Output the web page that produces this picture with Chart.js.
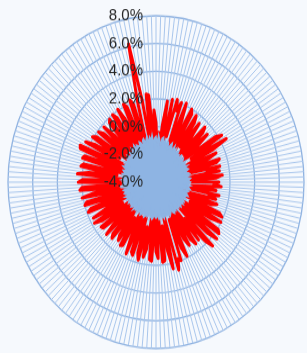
<!DOCTYPE html>
<html>
<head>
<meta charset="utf-8">
<script src="https://cdn.jsdelivr.net/npm/chart.js@4.4.1/dist/chart.umd.min.js"></script>
<style>
  html, body { margin: 0; padding: 0; background: #F6F9FD; overflow: hidden; }
  #wrap { width: 307px; height: 353px; overflow: hidden; }
  #radarChart { transform: scaleY(1.1242); transform-origin: 0 0; }
</style>
</head>
<body>
<div id="wrap"><canvas id="radarChart" width="307" height="314" style="width:307px;height:314px"></canvas></div>
<script>
// daily values in %, read clockwise from the top of the chart
const redReturns = [
  0.3, -1.8, -0.4, -2.2, 0.2, 1.9, -1.5, 2.1, -0.6, 2.2,
  1.4, 2.1, -2.0, 2.2, 0.9, -1.2, 2.0, 1.7, -2.4, 1.8,
  1.3, -0.8, 1.5, 0.4, -2.1, 1.6, 1.2, -1.0, 1.4, 0.3,
  -1.9, 1.8, 2.3, -0.7, 2.5, 1.2, -2.3, 1.3, 0.6, -1.4,
  1.4, 1.1, -2.0, 1.3, 0.2, 1.2, -1.6, 1.4, 0.9, -2.5,
  1.1, 0.7, 1.3, -1.1, 0.9, -2.0, 1.2, 0.4, 1.0, -1.7,
  1.2, 0.8, -2.2, 1.6, 1.9, -0.9, 2.0, 1.1, -1.8, 2.1,
  2.3, -1.3, 2.4, 1.5, -2.6, 2.5, 1.8, -0.5, 1.4, -2.0,
  1.5, 1.0, -1.6, 1.3, 0.7, -2.2, 1.9, 1.2, -1.1, 2.0,
  1.8, 2.6, -1.9, 2.4, 1.1, -0.8, 1.7, 1.8, -2.3, 1.5,
  1.0, -1.4, 1.7, 1.6, -2.0, 0.9, 1.5, -0.7, 1.8, 1.3,
  -2.1, 1.6, 1.4, -1.2, 1.7, 0.5, -2.4, 1.3, 1.4, -0.9,
  1.2, 0.8, -1.8, 1.4, 1.1, -2.2, 1.5, 0.6, -1.3, 1.4,
  1.5, -2.0, 1.2, 1.8, -0.9, 1.7, 0.4, -1.9, 1.9, 1.6,
  -1.5, 2.0, 1.8, -2.3, 2.1, 1.2, -1.0, 2.2, 2.0, -1.8,
  2.3, 1.9, -2.1, 2.4, 1.5, -0.8, 2.2, 2.0, -2.4, 2.2,
  2.1, -1.3, 2.6, 2.7, -1.9, 2.4, 1.6, -0.6, 2.1, 1.8,
  -2.2, 1.9, 1.5, -1.1, 1.8, 0.8, -2.0, 1.7, 1.9, -1.4,
  2.0, 1.6, -2.3, 2.1, 1.2, -0.9, 2.2, 1.9, -2.0, 2.3,
  1.9, -1.5, 2.2, 6.2, 2.1, -1.7, 2.4, 2.3, -0.8, 1.2
];

const blueValues = [
  -0.7, -1.2, -0.6, -0.9, -1.4, -0.8, -0.7, -1.1, -0.9, -1.3,
  -0.9, -1.0, -1.5, -1.1, -0.9, -1.2, -1.4, -1.0, -1.3, -1.1,
  -1.6, -1.2, -1.1, -1.4, -1.3, -1.7, -1.2, -1.3, -1.5, -1.2,
  -1.3, -1.8, -1.2, -1.4, -1.3, -1.6, -1.2, -1.5, -1.3, -1.2,
  -1.4, -1.7, -1.3, -1.2, -1.5, -1.3, -1.9, -1.2, -1.3, -1.4,
  -1.2, -1.3, -1.6, -1.2, -1.4, -1.3, -1.2, -1.8, -1.3, -1.4,
  -1.5, -1.3, -1.2, -1.6, -1.4, -1.3, -2.0, -1.4, -1.3, -1.5,
  -1.3, -1.6, -1.4, -1.3, -1.7, -1.4, -1.5, -1.3, -1.9, -1.4,
  -1.5, -1.3, -1.4, -1.8, -1.5, -1.4, -1.3, -1.6, -1.4, -1.5,
  -1.4, -1.7, -1.3, -1.5, -1.4, -1.9, -1.4, -1.3, -1.6, -1.5,
  -1.4, -1.5, -1.8, -1.4, -1.3, -1.6, -1.4, -2.0, -1.5, -1.4,
  -1.6, -1.4, -1.3, -1.7, -1.5, -1.4, -1.3, -1.8, -1.4, -1.5,
  -1.3, -1.7, -1.4, -1.5, -1.3, -2.1, -1.4, -1.3, -1.5, -1.4,
  -1.6, -1.3, -1.4, -1.8, -1.3, -1.4, -1.5, -1.3, -1.9, -1.4,
  -1.3, -1.5, -1.4, -1.3, -1.7, -1.4, -1.2, -1.6, -1.3, -1.4,
  -1.3, -1.8, -1.2, -1.4, -1.3, -1.6, -1.3, -1.2, -1.5, -1.3,
  -1.2, -1.6, -1.3, -1.1, -1.4, -1.2, -1.7, -1.1, -1.3, -1.2,
  -1.1, -1.4, -1.0, -1.2, -1.5, -1.0, -1.1, -1.3, -0.9, -1.2,
  -1.0, -0.8, -1.3, -0.9, -1.0, -1.2, -0.8, -0.9, -1.4, -0.8,
  -0.7, -1.1, -0.8, -0.6, -1.2, -0.7, -0.9, -0.6, -1.3, -0.8
];

const days = redReturns.map((_, i) => String(i + 1));
const tickValues = [-4, -2, 0, 2, 4, 6, 8];
const tickLabels = ["-4.0%", "-2.0%", "0.0%", "2.0%", "4.0%", "6.0%", "8.0%"];

// tick labels sit left of the vertical axis, like Excel does it
const tickLabelPlugin = {
  id: "tickLabels",
  afterDatasetsDraw(chart) {
    const s = chart.scales.r;
    const c = chart.ctx;
    c.save();
    c.font = '15px "Liberation Sans", Arial, sans-serif';
    c.fillStyle = "#262626";
    c.textAlign = "right";
    c.textBaseline = "middle";
    tickValues.forEach((v, i) => {
      const d = s.getDistanceFromCenterForValue(v);
      c.fillText(tickLabels[i], s.xCenter - 13, s.yCenter - d);
    });
    c.restore();
  },
};

const ctx = document.getElementById("radarChart").getContext("2d");
new Chart(ctx, {
  type: "radar",
  data: {
    labels: days,
    datasets: [
      {
        label: "low",
        data: blueValues,
        borderColor: "#8EB4E3",
        backgroundColor: "#8EB4E3",
        borderWidth: 1.5,
        fill: "start",
        pointRadius: 0,
        tension: 0,
      },
      {
        label: "return",
        data: redReturns,
        borderColor: "#FF0000",
        backgroundColor: "#FF0000",
        borderWidth: 3,
        borderJoinStyle: "round",
        fill: false,
        pointRadius: 0,
        tension: 0,
      },
    ],
  },
  options: {
    responsive: false,
    animation: false,
    layout: { padding: { left: 8, right: 2, top: 14, bottom: 3 } },
    plugins: {
      legend: { display: false },
      tooltip: { enabled: false },
    },
    scales: {
      r: {
        min: -4,
        max: 8,
        ticks: { stepSize: 2, display: false },
        pointLabels: { display: false },
        grid: { circular: true, color: "#8FB2E0", lineWidth: 1.3 },
        angleLines: { display: true, color: "#A9C6EC", lineWidth: 1 },
      },
    },
  },
  plugins: [tickLabelPlugin],
});
</script>
</body>
</html>
